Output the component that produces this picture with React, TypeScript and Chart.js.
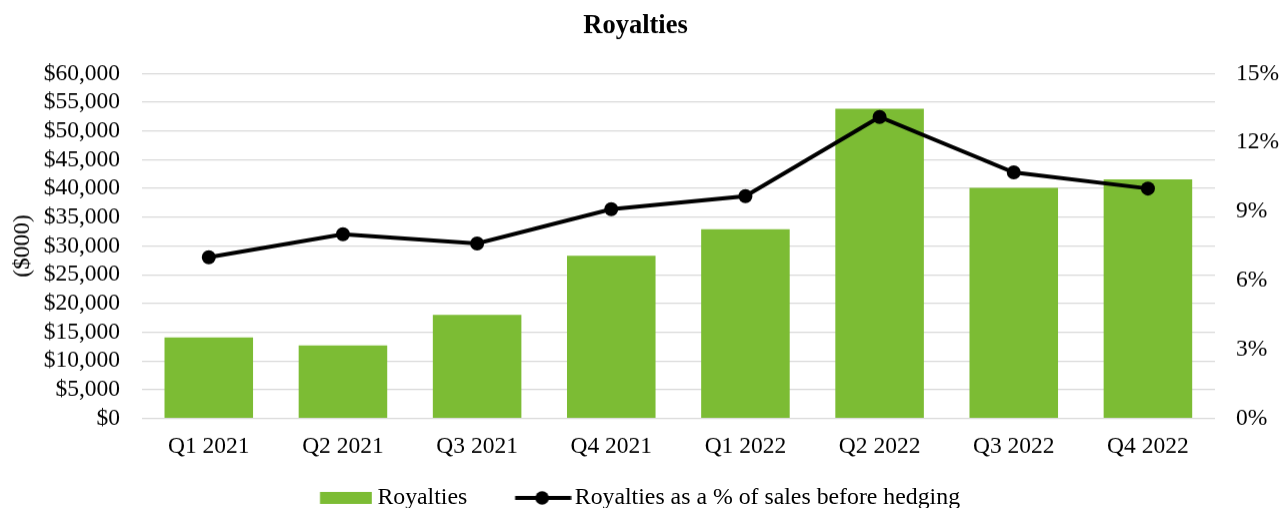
import React, { useEffect, useRef } from 'react';
import { Chart, registerables } from 'chart.js';

Chart.register(...registerables);

const categories = ['Q1 2021', 'Q2 2021', 'Q3 2021', 'Q4 2021', 'Q1 2022', 'Q2 2022', 'Q3 2022', 'Q4 2022'];
const royalties = [14100, 12700, 18000, 28300, 32900, 53900, 40100, 41600];
const royaltyPct = [7.01, 8.01, 7.61, 9.1, 9.67, 13.11, 10.7, 10.0];
const leftAxis = { min: 0, max: 60000, step: 5000 };
const rightAxis = { min: 0, max: 15, step: 3 };

const FONT = "'Liberation Serif', 'Times New Roman', serif";
const GREEN = '#7cbc34';

function makeBarLegendImg() {
  const c = document.createElement('canvas');
  c.width = 68;
  c.height = 14;
  const ctx = c.getContext('2d')!;
  ctx.fillStyle = GREEN;
  ctx.fillRect(15.75, 1, 52, 12);
  return c;
}

function makeLineLegendImg() {
  const c = document.createElement('canvas');
  c.width = 72;
  c.height = 16;
  const ctx = c.getContext('2d')!;
  ctx.strokeStyle = '#000';
  ctx.lineWidth = 4;
  ctx.beginPath();
  ctx.moveTo(15.5, 8);
  ctx.lineTo(71.5, 8);
  ctx.stroke();
  ctx.fillStyle = '#000';
  ctx.beginPath();
  ctx.arc(42.5, 8, 6.8, 0, Math.PI * 2);
  ctx.fill();
  return c;
}

export default function App() {
  const ref = useRef<HTMLCanvasElement | null>(null);

  useEffect(() => {
    if (!ref.current) return;
    const barImg = makeBarLegendImg();
    const lineImg = makeLineLegendImg();
    const chart = new Chart(ref.current, {
      type: 'bar',
      data: {
        labels: categories,
        datasets: [
          {
            type: 'bar',
            label: 'Royalties',
            data: royalties,
            backgroundColor: GREEN,
            borderWidth: 0,
            barPercentage: 0.66,
            categoryPercentage: 1.0,
            yAxisID: 'y',
            order: 1,
          },
          {
            type: 'line',
            label: 'Royalties as a % of sales before hedging',
            data: royaltyPct,
            borderColor: '#000',
            backgroundColor: '#000',
            borderWidth: 4,
            pointRadius: 7,
            pointBackgroundColor: '#000',
            pointBorderWidth: 0,
            tension: 0,
            yAxisID: 'y1',
            order: 0,
          } as any,
        ],
      },
      options: {
        animation: false,
        responsive: true,
        maintainAspectRatio: false,
        layout: { padding: { left: -11, right: 0, top: 0, bottom: 0 } },
        plugins: {
          title: {
            display: true,
            text: 'Royalties',
            color: '#000',
            font: { family: FONT, size: 26.5, weight: 'bold' },
            padding: { top: 10.6, bottom: 31 },
          },
          legend: {
            position: 'bottom',
            labels: {
              color: '#000',
              font: { family: FONT, size: 23.8 },
              usePointStyle: true,
              pointStyleWidth: 54.5,
              padding: 41.1,
              generateLabels: (c: any) => {
                const items = (Chart.defaults.plugins.legend.labels as any).generateLabels(c);
                items.forEach((it: any) => {
                  it.pointStyle = it.datasetIndex === 0 ? barImg : lineImg;
                });
                return items.sort((a: any, b: any) => a.datasetIndex - b.datasetIndex);
              },
            },
          },
          tooltip: { enabled: false },
        },
        scales: {
          x: {
            offset: true,
            grid: { display: false },
            border: { display: false },
            ticks: {
              color: '#000',
              font: { family: FONT, size: 23.5 },
              mirror: true,
              padding: -42.4,
              maxRotation: 0,
              autoSkip: false,
            },
            afterFit: (s: any) => {
              s.height = 26.3;
            },
          },
          y: {
            position: 'left',
            min: leftAxis.min,
            max: leftAxis.max,
            grid: { color: '#d9d9d9', lineWidth: 1.3, drawTicks: false },
            border: { display: false },
            ticks: {
              stepSize: leftAxis.step,
              autoSkip: false,
              color: '#000',
              font: { family: FONT, size: 23.5 },
              padding: 21.7,
              callback: (v: any) => '$' + Number(v).toLocaleString('en-US'),
            },
            title: {
              display: true,
              text: '($000)',
              color: '#000',
              font: { family: FONT, size: 23.5 },
              padding: { top: 20, bottom: 0 },
            },
            afterFit: (s: any) => {
              s.width = 152.7;
            },
          },
          y1: {
            position: 'right',
            min: rightAxis.min,
            max: rightAxis.max,
            grid: { drawOnChartArea: false, drawTicks: false },
            border: { display: false },
            ticks: {
              stepSize: rightAxis.step,
              autoSkip: false,
              color: '#000',
              font: { family: FONT, size: 23.5 },
              padding: 21,
              callback: (v: any) => v + '%',
            },
            afterFit: (s: any) => {
              s.width = 67;
            },
          },
        },
      },
    });
    return () => chart.destroy();
  }, []);

  return (
    <div style={{ position: 'fixed', left: 0, top: 0, width: 1282, height: 518.75, background: '#fff' }}>
      <canvas ref={ref} />
    </div>
  );
}
